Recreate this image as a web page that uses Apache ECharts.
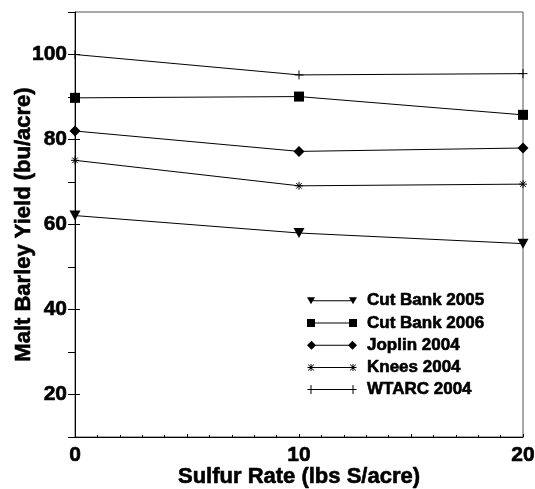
<!DOCTYPE html>
<html>
<head>
<meta charset="utf-8">
<script src="https://cdn.jsdelivr.net/npm/echarts@6/dist/echarts.min.js"></script>
<style>
html,body{margin:0;padding:0;background:#fff;}
#chart{width:535px;height:489px;}
</style>
</head>
<body>
<div id="chart"></div>
<script>
// ---- data ----
var sulfurRates = [0, 10, 20];
var seriesNames = ['Cut Bank 2005', 'Cut Bank 2006', 'Joplin 2004', 'Knees 2004', 'WTARC 2004'];
var cutBank2005 = [62.1, 58.0, 55.5];
var cutBank2006 = [89.8, 90.1, 85.8];
var joplin2004 = [82.0, 77.2, 78.0];
var knees2004 = [75.1, 69.1, 69.5];
var wtarc2004 = [100.0, 95.2, 95.5];
var yTickLabels = [20, 40, 60, 80, 100];
var xTickLabels = [0, 10, 20];

var FONT = "'Liberation Sans', Arial, Helvetica, sans-serif";
function pairs(vals){ return sulfurRates.map(function(x,i){ return [x, vals[i]]; }); }
function txt(size, extra){
  var o = {fontFamily: FONT, fontWeight: 'bold', fontSize: size, color: '#000', textBorderColor: '#000', textBorderWidth: 0.6};
  for (var k in (extra||{})) o[k] = extra[k];
  return o;
}

// legend icons (line with a symbol at each end)
var bounds = 'M0,0L0.01,0L0,0.01Z M54.99,10L55,10L55,9.99Z ';
function lineRect(a,b){ return 'M'+a+',4.5L'+b+',4.5L'+b+',5.5L'+a+',5.5Z '; }
var iconTri = 'path://' + bounds + lineRect(4,46) + 'M0,1.5L8,1.5L4,8.5Z M42,1.5L50,1.5L46,8.5Z';
var iconSq = 'path://' + bounds + lineRect(4,46) + 'M0,1L8,1L8,9L0,9Z M42,1L50,1L50,9L42,9Z';
var iconDia = 'path://' + bounds + lineRect(4.5,45.5) + 'M4.5,0.5L9,5L4.5,9.5L0,5Z M45.5,0.5L50,5L45.5,9.5L41,5Z';
function ast(c){
  return 'M'+(c-0.5)+',1.5L'+(c+0.5)+',1.5L'+(c+0.5)+',8.5L'+(c-0.5)+',8.5Z ' +
    'M'+(c-3.5)+',4.5L'+(c+3.5)+',4.5L'+(c+3.5)+',5.5L'+(c-3.5)+',5.5Z ' +
    'M'+(c-3.3)+',2L'+(c-2.3)+',2L'+(c+3.3)+',8L'+(c+2.3)+',8Z ' +
    'M'+(c+2.3)+',2L'+(c+3.3)+',2L'+(c-2.3)+',8L'+(c-3.3)+',8Z ';
}
var iconAst = 'path://' + bounds + lineRect(4,46) + ast(4) + ast(46);
function plus(c){ return 'M'+(c-0.5)+',0.5L'+(c+0.5)+',0.5L'+(c+0.5)+',9.5L'+(c-0.5)+',9.5Z '; }
var iconPlus = 'path://' + bounds + lineRect(0.5,49.5) + plus(4) + plus(46);

var asteriskPath = 'path://M0,5L10,5M5,0L5,10M1.5,1.5L8.5,8.5M8.5,1.5L1.5,8.5';
var plusPath = 'path://M0,5L10,5M5,0L5,10';

function lineSeries(name, vals, symbol, size, rotate, stroked){
  return {
    name: name, type: 'line', data: pairs(vals),
    symbol: symbol, symbolSize: size, symbolRotate: rotate || 0,
    lineStyle: {color: '#000', width: 1},
    itemStyle: stroked ? {color: '#000', borderColor: '#000', borderWidth: 1} : {color: '#000', borderWidth: 0},
    emphasis: {disabled: true},
    z: 3
  };
}

var chart = echarts.init(document.getElementById('chart'), null, {renderer: 'canvas'});
chart.setOption({
  animation: false,
  backgroundColor: '#fff',
  grid: {left: 75, right: 12, top: 12, bottom: 52, containLabel: false, outerBoundsMode: 'none',
    show: true, borderColor: '#555', borderWidth: 1, backgroundColor: 'transparent'},
  legend: {
    orient: 'vertical', left: 302, top: 287,
    itemWidth: 55, itemHeight: 10, itemGap: 4.6,
    itemStyle: {color: '#000', borderWidth: 0},
    textStyle: txt(17),
    data: [
      {name: seriesNames[0], icon: iconTri},
      {name: seriesNames[1], icon: iconSq},
      {name: seriesNames[2], icon: iconDia},
      {name: seriesNames[3], icon: iconAst},
      {name: seriesNames[4], icon: iconPlus}
    ],
    selectedMode: false
  },
  xAxis: {
    type: 'value', min: 0, max: 20, interval: 5,
    name: 'Sulfur Rate (lbs S/acre)', nameLocation: 'middle', nameGap: 29, nameMoveOverlap: false,
    nameTextStyle: txt(22),
    axisLine: {show: true, lineStyle: {color: '#000', width: 1}},
    axisTick: {show: true, inside: true, length: 3, lineStyle: {color: '#000'}},
    minorTick: {show: true, splitNumber: 5, length: 2, lineStyle: {color: '#000'}},
    axisLabel: txt(21, {margin: 8,
      formatter: function(v){ return xTickLabels.indexOf(v) >= 0 ? String(v) : ''; }}),
    splitLine: {show: false}
  },
  yAxis: [{
    type: 'value', min: 10, max: 110, interval: 10, position: 'left',
    name: 'Malt Barley Yield (bu/acre)', nameLocation: 'middle', nameGap: 40, nameMoveOverlap: false,
    nameTextStyle: txt(22),
    axisLine: {show: true, lineStyle: {color: '#000', width: 1}},
    axisTick: {show: true, inside: false, length: 7, lineStyle: {color: '#000'}},
    axisLabel: txt(21, {margin: 8,
      formatter: function(v){ return yTickLabels.indexOf(v) >= 0 ? String(v) : ''; }}),
    splitLine: {show: false}
  }, {
    type: 'value', min: 10, max: 110, interval: 10, position: 'left', offset: 0,
    axisLine: {show: false},
    axisTick: {show: true, inside: true, length: 5, lineStyle: {color: '#000'}, customValues: yTickLabels},
    axisLabel: {show: false},
    splitLine: {show: false}
  }],
  series: [
    lineSeries(seriesNames[0], cutBank2005, 'triangle', [11, 10], 180, false),
    lineSeries(seriesNames[1], cutBank2006, 'rect', [10, 10], 0, false),
    lineSeries(seriesNames[2], joplin2004, 'diamond', [11, 11], 0, false),
    lineSeries(seriesNames[3], knees2004, asteriskPath, [8, 8], 0, true),
    lineSeries(seriesNames[4], wtarc2004, plusPath, [9, 9], 0, true)
  ]
});
</script>
</body>
</html>
